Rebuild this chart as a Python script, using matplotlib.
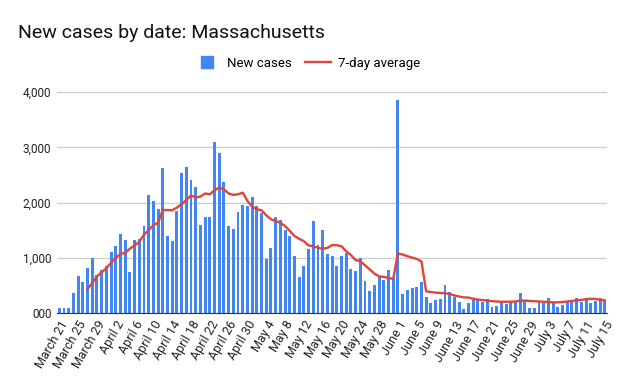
import pandas as pd
import matplotlib
matplotlib.use("Agg")
import matplotlib.pyplot as plt
from matplotlib.lines import Line2D

# ========== Data ==========
dates = pd.date_range("2020-03-21", "2020-07-15", freq="D")
date_labels = [f"{d.strftime('%B')} {d.day}" for d in dates]

new_cases = [
    85, 100, 100, 360, 670, 565, 820, 1000, 685, 775,
    860, 1110, 1220, 1435, 1320, 745, 1320, 1350, 1580, 2145,
    2030, 1890, 2620, 1400, 1300, 1850, 2530, 2640, 2400, 2290,
    1590, 1745, 1745, 3090, 2890, 2380, 1575, 1520, 1835, 1965,
    1940, 2110, 1940, 1810, 970, 1180, 1745, 1685, 1510, 1395,
    1030, 655, 850, 1165, 1670, 1235, 1500, 1075, 1030, 850,
    1030, 1090, 800, 760, 990, 575, 400, 500, 650, 600,
    775, 630, 3850, 340, 410, 450, 465, 560, 290, 190,
    245, 255, 505, 390, 290, 200, 75, 180, 240, 230,
    200, 260, 110, 135, 200, 170, 200, 210, 370, 220,
    100, 100, 225, 190, 270, 190, 115, 145, 205, 240,
    270, 205, 270, 190, 225, 270, 220,
]

# 7-day average starts on the 7th day
avg_7day = [None] * 6 + [
    435, 545, 665, 740,
    810, 910, 1000, 1070, 1090, 1165, 1225, 1290, 1420, 1500,
    1590, 1635, 1865, 1865, 1860, 1910, 1970, 2050, 2130, 2090,
    2110, 2165, 2150, 2225, 2270, 2240, 2165, 2140, 2150, 2180,
    2030, 1925, 1880, 1860, 1770, 1700, 1665, 1635, 1575, 1485,
    1395, 1345, 1300, 1225, 1210, 1180, 1165, 1180, 1230, 1230,
    1210, 1120, 1050, 960, 940, 865, 790, 715, 665, 655,
    635, 620, 1080, 1060, 1030, 1005, 980, 935, 395, 380,
    370, 365, 360, 345, 320, 300, 285, 280, 260, 245,
    235, 225, 215, 210, 205, 205, 205, 210, 225, 225,
    220, 215, 210, 205, 200, 195, 195, 200, 210, 220,
    230, 240, 250, 260, 255, 240, 230,
]

y_ticks = [0, 1000, 2000, 3000, 4000]
y_tick_labels = ["000", "1,000", "2,000", "3,000", "4,000"]

BLUE = "#4285F4"
RED = "#E0443A"

# ========== Plot ==========
plt.rcParams["font.family"] = ["Roboto", "DejaVu Sans"]

fig = plt.figure(figsize=(6.26, 3.87), dpi=100)
ax = fig.add_axes([0.091, 0.191, 0.879, 0.571])

x = list(range(len(dates)))
ax.bar(x, new_cases, width=0.62, color=BLUE, zorder=2)
avg = pd.Series(avg_7day, dtype="float64")
ax.plot(x, avg, color=RED, linewidth=1.7, zorder=3)

ax.set_xlim(-0.5, len(dates) - 0.5)
ax.set_ylim(0, 4000)
ax.set_yticks(y_ticks)
ax.set_yticklabels(y_tick_labels, fontsize=8.5, color="#222222")
ax.yaxis.grid(True, color="#cccccc", linewidth=0.9, zorder=0)
ax.set_axisbelow(True)

tick_pos = x[::4]
ax.set_xticks(tick_pos)
ax.set_xticklabels([date_labels[i] for i in tick_pos], rotation=60, ha="right",
                   rotation_mode="anchor", fontsize=9, color="#222222")
ax.tick_params(axis="both", length=0, pad=4)

for side in ["top", "right", "left"]:
    ax.spines[side].set_visible(False)
ax.spines["bottom"].set_color("#333333")
ax.spines["bottom"].set_linewidth(0.8)

fig.text(0.029, 0.915, "New cases by date: Massachusetts", fontsize=14, color="#111111",
         va="center")

# legend proxies: square for bars, line for the average
sq = Line2D([], [], marker="s", linestyle="none", markersize=8, color=BLUE)
ln = Line2D([], [], color=RED, linewidth=1.7)
fig.legend([sq, ln], ["New cases", "7-day average"], loc="center",
           bbox_to_anchor=(0.49, 0.837), ncol=2, frameon=False, fontsize=9.5,
           handlelength=2.0, columnspacing=1.0, handletextpad=0.5)

fig.savefig("out.png", dpi=100)
